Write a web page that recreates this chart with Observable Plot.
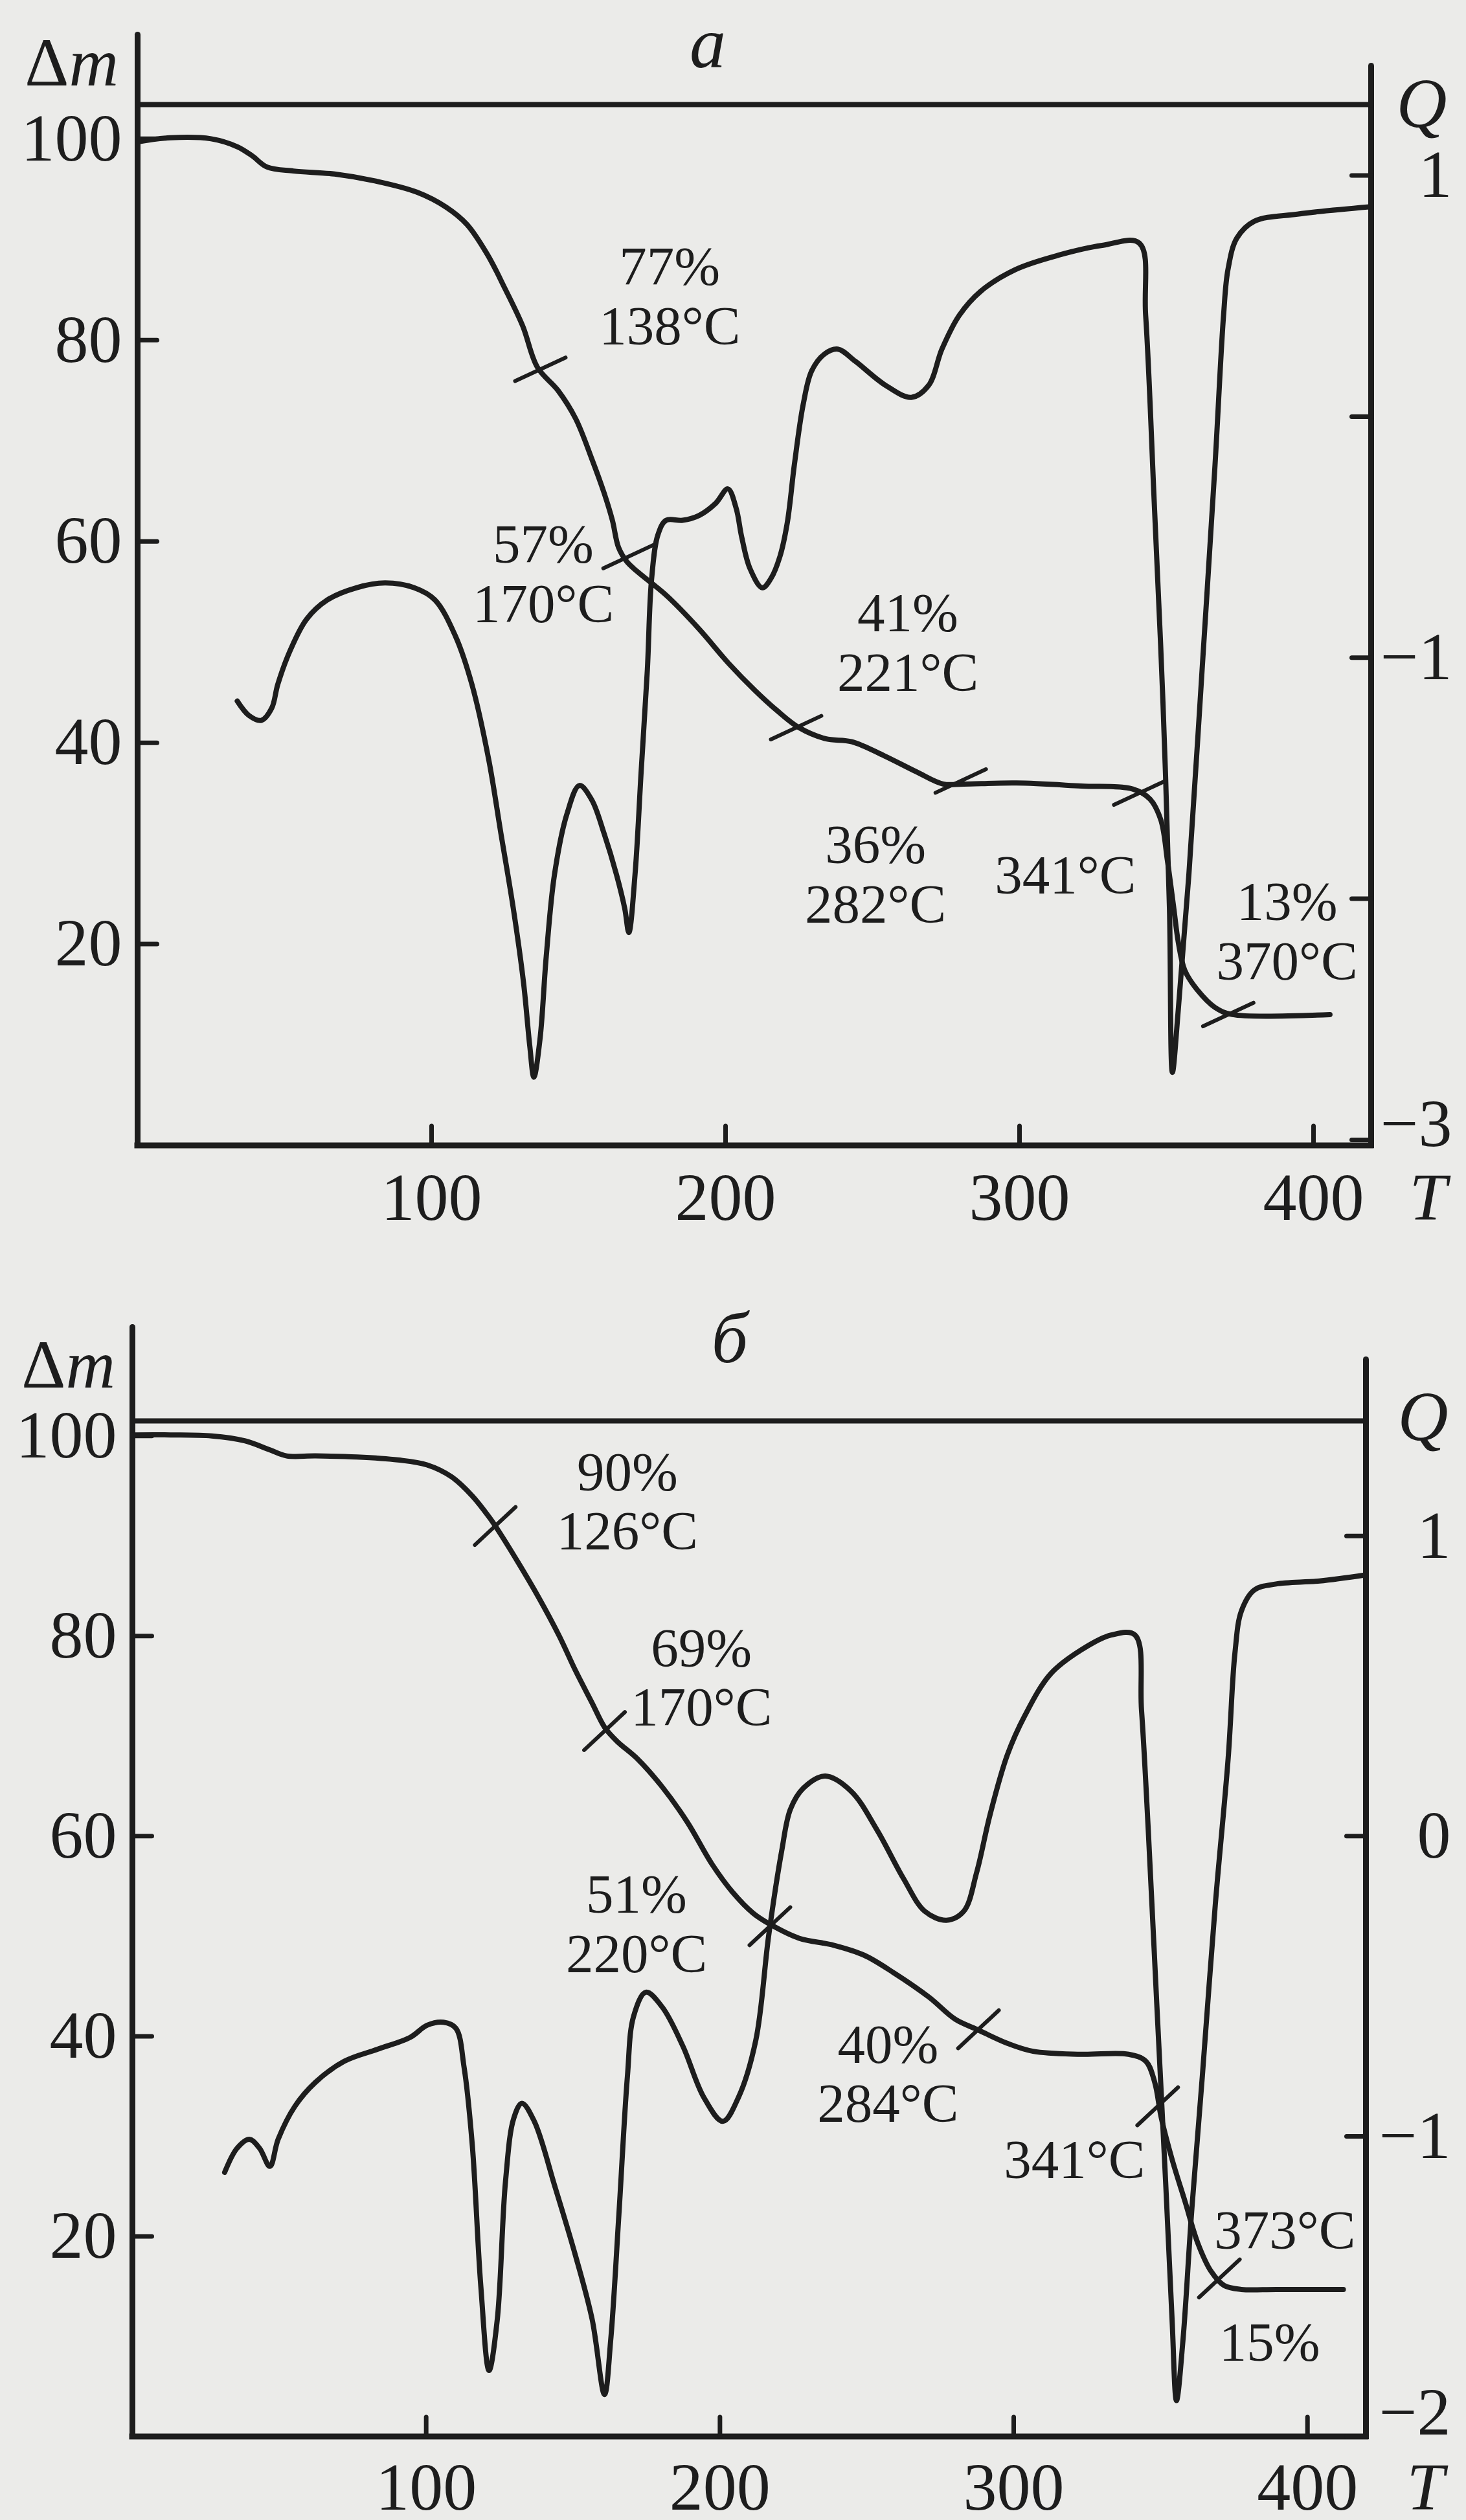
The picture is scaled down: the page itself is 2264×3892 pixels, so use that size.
<!DOCTYPE html>
<html><head><meta charset="utf-8">
<script src="https://cdn.jsdelivr.net/npm/d3@7"></script>
<script src="https://cdn.jsdelivr.net/npm/@observablehq/plot@0.6"></script>
<style>
html,body{margin:0;padding:0;background:#ebebe9;width:2264px;height:3892px;overflow:hidden;}
.panel{position:absolute;left:0;}
#pa{top:0}
#pb{top:1946px}
</style></head><body>
<div id="pa" class="panel"></div><div id="pb" class="panel"></div>
<script>
// ---------- Panel а ----------
// TG curve: [T °C, Δm %]
const tgA = [[0,99.7],[11,100.1],[25,100],[34,99.2],[39,98.3],[44,97.2],[53,96.8],[67,96.5],[81,95.8],[95,94.7],[105,93.2],[112,91.5],[119,88.5],[125,85.1],[131,81.4],[136,77.3],[143,75.0],[149,72.2],[154.5,68.2],[158.7,64.8],[161.5,62.1],[163.6,59.4],[166.4,58.0],[170,57.0],[180,54.6],[191,51.3],[201,47.9],[210,45.2],[217.5,43.2],[225,41.5],[234,40.4],[243,40.1],[254,38.7],[265,37.1],[274,35.9],[281,35.9],[299,36.0],[321,35.7],[338.5,35.4],[344.4,34.4],[348.1,32.3],[350.3,28.3],[352.5,23.5],[354,20.2],[356.2,17.4],[360.6,15.4],[366.5,13.7],[372.4,13.0],[405.6,13.0]];
// DTA curve: [T °C, Q]
const dtaA = [[33.9,-1.18],[37.9,-1.24],[42.1,-1.26],[45.6,-1.21],[47.7,-1.11],[51.9,-0.97],[57.5,-0.84],[64.6,-0.76],[74.4,-0.71],[84.2,-0.69],[94.1,-0.71],[101.1,-0.76],[108.1,-0.91],[113.7,-1.11],[119.4,-1.42],[123.6,-1.73],[127.8,-2.04],[131.3,-2.35],[133.4,-2.61],[134.8,-2.74],[136.9,-2.58],[139,-2.24],[141.8,-1.90],[146,-1.65],[150.3,-1.53],[154.5,-1.59],[158.7,-1.73],[162.9,-1.90],[165.7,-2.04],[167.1,-2.14],[169.2,-1.90],[171.3,-1.47],[173.4,-1.05],[174.8,-0.68],[177,-0.49],[179.8,-0.43],[185.4,-0.43],[191,-0.41],[196.6,-0.36],[200.8,-0.30],[203.6,-0.38],[205.5,-0.50],[208.3,-0.63],[212.5,-0.71],[215.5,-0.67],[218.5,-0.58],[221,-0.44],[223.4,-0.20],[226.4,0.05],[229.3,0.19],[233.7,0.26],[238.2,0.28],[244.1,0.23],[254.4,0.13],[263.2,0.08],[269.1,0.13],[273.6,0.28],[279.5,0.42],[286.8,0.52],[298.6,0.61],[313.4,0.67],[328.1,0.71],[340.7,0.72],[342.9,0.42],[345.8,-0.35],[348.8,-1.19],[351,-2.04],[352,-2.72],[354,-2.46],[357.6,-1.90],[362.1,-1.05],[366.5,-0.20],[369.4,0.42],[370.9,0.61],[373.9,0.74],[379.8,0.81],[394.5,0.84],[418.9,0.87]];
// crossing marks on TG: [T, Δm]
const marksA = [[137,77.1],[167,58.5],[224,41.5],[280,36.2],[340.7,35.0],[371,13.0]];
// annotation texts with their place in chart units [T, Δm]
const notesA = [["77%\n138°C",181,84.4],["57%\n170°C",138,56.8],["41%\n221°C",262,50],["36%\n282°C",251,27],["341°C",315.6,26.9],["13%\n370°C",391,21.3]];
const tLimitA = 419.6, mTopA = 103.4;
const qToMA = q => 72.4 + 23.95 * q;       // Q axis of panel а against Δm
const qTicksA = [1, 0, -1, -2, -3], qLabelsA = [1, -1, -3];

// ---------- Panel б ----------
const tgB = [[0,100.1],[13,100.1],[27,100],[38.4,99.5],[46.8,98.6],[52.5,98.0],[62.3,98.0],[76.4,97.9],[90.4,97.6],[100.3,97.1],[108.7,95.9],[115.7,94.0],[121.4,91.9],[124.2,90.7],[131.2,87.4],[138.2,83.9],[145.3,80.0],[150.9,76.5],[156.5,73.3],[160.7,70.9],[164.9,69.5],[172,67.7],[180.4,64.9],[188.9,61.4],[197.3,57.2],[204.3,54.4],[211.3,52.3],[217,51.2],[226.9,49.8],[238.7,49.1],[249.1,48.1],[259.4,46.3],[271.2,43.9],[280.1,41.7],[287.4,40.7],[297.8,39.3],[306.6,38.5],[322.9,38.2],[339.1,38.2],[345,37.5],[348,35.4],[350.2,31.9],[353.9,27.7],[358.3,23.5],[362.7,19.3],[367.2,16.5],[371.6,15.1],[377.5,14.7],[389.3,14.7],[412.2,14.7]];
const dtaB = [[31.4,-1.12],[35.6,-1.04],[39.8,-1.01],[43.3,-1.04],[46.8,-1.10],[49.6,-1.01],[55.3,-0.90],[62.3,-0.82],[72.1,-0.75],[83.4,-0.71],[94.6,-0.67],[100.3,-0.63],[105.9,-0.62],[110.1,-0.64],[112.9,-0.77],[115.7,-1.03],[118.6,-1.50],[121.4,-1.78],[124.2,-1.61],[127,-1.15],[129.8,-0.94],[132.6,-0.89],[136.8,-0.95],[143.9,-1.17],[150.9,-1.40],[156.5,-1.61],[160.7,-1.86],[162.8,-1.68],[165.6,-1.26],[168.5,-0.80],[170.6,-0.60],[174.8,-0.52],[180.4,-0.57],[187.4,-0.70],[194.5,-0.87],[201,-0.95],[206.3,-0.87],[212.2,-0.68],[216.6,-0.33],[221,-0.05],[224,0.09],[228.4,0.16],[235.8,0.20],[244.6,0.15],[253.5,0.02],[262.4,-0.14],[269.7,-0.25],[277.1,-0.28],[283,-0.25],[287.4,-0.12],[291.9,0.07],[297.8,0.27],[303.7,0.40],[312.5,0.54],[322.9,0.62],[333.2,0.67],[341.3,0.67],[343.5,0.42],[345.8,0.02],[348.7,-0.56],[351.7,-1.15],[353.9,-1.61],[355.4,-1.88],[357.6,-1.68],[360.5,-1.26],[364.2,-0.80],[368.6,-0.23],[373,0.26],[375.3,0.61],[377.5,0.75],[381.9,0.82],[389.3,0.84],[404.1,0.85],[419.6,0.87]];
const marksB = [[123.5,91.0],[160.7,70.5],[217,51.0],[288,40.7],[349,33.0],[370,15.8]];
const notesB = [["90%\n126°C",168.5,93.5],["69%\n170°C",193.7,75.9],["51%\n220°C",171.6,51.3],["40%\n284°C",257.2,36.3],["341°C",320.7,27.7],["373°C",392.3,20.7],["15%",387.1,9.5]];
const tLimitB = 419.9, mTopB = 101.5;
const qToMB = q => 60 + 30 * q;
const qTicksB = [1, 0, -1, -2], qLabelsB = [1, 0, -1, -2];

const tTicks = [100, 200, 300, 400];
const mTicks = [20, 40, 60, 80, 100];

// ---------- drawing ----------
const INK = "#1d1d1d";
const FONT = "'Liberation Serif', 'Times New Roman', serif";
const seg = {draw(ctx, l) { ctx.moveTo(0, 0); ctx.lineTo(0, -l); }};
const fmtQ = d => d < 0 ? "\u2212" + (-d) : String(d);

function panel(cfg) {
  const tg = cfg.tg.map(([T, m]) => ({T, m}));
  const dta = cfg.dta.map(([T, q]) => ({T, q}));
  const crosses = cfg.marks.map(([T, m]) => ({T, m}));
  const notes = cfg.notes.map(([text, T, m]) => ({text, T, m}));
  const tickFont = 104;
  return Plot.plot({
    width: 2264, height: 1946,
    marginLeft: cfg.ml, marginRight: cfg.mr, marginTop: cfg.mt, marginBottom: cfg.mb,
    x: {domain: [0, cfg.tLimit], axis: null},
    y: {domain: [0, cfg.mTop], axis: null},
    style: {background: "transparent", overflow: "visible", fontFamily: FONT, color: INK},
    marks: [
      // frame lines
      Plot.ruleY([0], {stroke: INK, strokeWidth: 9, strokeLinecap: "square"}),
      Plot.ruleY([cfg.mTop], {stroke: INK, strokeWidth: 8}),
      Plot.ruleX([0], {stroke: INK, strokeWidth: 9, strokeLinecap: "square"}),
      Plot.ruleX([cfg.tLimit], {stroke: INK, strokeWidth: 9, strokeLinecap: "square"}),
      Plot.vector([0], {frameAnchor: "top-left", rotate: 0, length: cfg.extL, anchor: "start", shape: seg, stroke: INK, strokeWidth: 9}),
      Plot.vector([0], {frameAnchor: "top-right", rotate: 0, length: cfg.extR, anchor: "start", shape: seg, stroke: INK, strokeWidth: 9}),
      // inward ticks
      Plot.vector(tTicks, {x: d => d, frameAnchor: "bottom", rotate: 0, length: 30, anchor: "start", shape: seg, stroke: INK, strokeWidth: 7}),
      Plot.vector(mTicks, {y: d => d, frameAnchor: "left", rotate: 90, length: 30, anchor: "start", shape: seg, stroke: INK, strokeWidth: 7}),
      Plot.vector(cfg.qTicks, {y: d => cfg.qToM(d), frameAnchor: "right", rotate: -90, length: 30, anchor: "start", shape: seg, stroke: INK, strokeWidth: 7}),
      // tick labels
      Plot.text(tTicks, {x: d => d, frameAnchor: "bottom", dy: cfg.tLabDy, textAnchor: "middle", lineAnchor: "middle", text: d => String(d), fontSize: tickFont, fill: INK}),
      Plot.text(mTicks, {y: d => d, frameAnchor: "left", dx: -24, textAnchor: "end", lineAnchor: "middle", text: d => String(d), fontSize: tickFont, fill: INK}),
      Plot.text(cfg.qLabels.slice(0, -1), {y: d => cfg.qToM(d), frameAnchor: "right", dx: cfg.qDx, textAnchor: "end", lineAnchor: "middle", text: fmtQ, fontSize: tickFont, fill: INK}),
      Plot.text(cfg.qLabels.slice(-1), {y: d => cfg.qToM(d), frameAnchor: "right", dx: cfg.qDx, dy: cfg.lastQDy, textAnchor: "end", lineAnchor: "middle", text: fmtQ, fontSize: tickFont, fill: INK}),
      // axis names
      Plot.text(["\u0394"], {frameAnchor: "top-left", dx: cfg.dmDx, dy: cfg.dmDy, textAnchor: "end", lineAnchor: "middle", fontSize: 106, fill: INK}),
      Plot.text(["m"], {frameAnchor: "top-left", dx: cfg.dmDx, dy: cfg.dmDy, textAnchor: "start", lineAnchor: "middle", fontStyle: "italic", fontSize: 106, fill: INK}),
      Plot.text(["Q"], {frameAnchor: "top-right", dx: cfg.qNameDx, dy: cfg.qNameDy, textAnchor: "middle", lineAnchor: "middle", fontStyle: "italic", fontSize: 108, fill: INK}),
      Plot.text(["T"], {frameAnchor: "bottom-right", dx: cfg.tNameDx, dy: cfg.tLabDy, textAnchor: "middle", lineAnchor: "middle", fontStyle: "italic", fontSize: 104, fill: INK}),
      Plot.text([cfg.title], {frameAnchor: "top", dx: cfg.titleDx, dy: cfg.titleDy, textAnchor: "middle", lineAnchor: "middle", fontStyle: "italic", fontSize: 112, fill: INK}),
      // curves
      Plot.line(tg, {x: "T", y: "m", curve: "catmull-rom", stroke: INK, strokeWidth: 8, strokeLinejoin: "round", strokeLinecap: "round"}),
      Plot.line(dta, {x: "T", y: d => cfg.qToM(d.q), curve: "catmull-rom", stroke: INK, strokeWidth: 8, strokeLinejoin: "round", strokeLinecap: "round"}),
      Plot.vector(crosses, {x: "T", y: "m", rotate: cfg.markRotate, length: 86, anchor: "middle", shape: seg, stroke: INK, strokeWidth: 6}),
      Plot.text(notes, {x: "T", y: "m", text: "text", fontSize: 85, lineHeight: 1.08, fill: INK})
    ]
  });
}

document.getElementById("pa").append(panel({
  tg: tgA, dta: dtaA, marks: marksA, notes: notesA, tLimit: tLimitA, mTop: mTopA,
  qToM: qToMA, qTicks: qTicksA, qLabels: qLabelsA,
  ml: 212, mr: 147, mt: 161, mb: 177.5, extL: 108, extR: 60,
  qDx: 125, lastQDy: -24, dmDx: -106, dmDy: -63, qNameDx: 78, qNameDy: 0, tNameDx: 88, tLabDy: 82,
  title: "а", titleDx: -72, titleDy: -93, markRotate: 65
}));
document.getElementById("pb").append(panel({
  tg: tgB, dta: dtaB, marks: marksB, notes: notesB, tLimit: tLimitB, mTop: mTopB,
  qToM: qToMB, qTicks: qTicksB, qLabels: qLabelsB,
  ml: 204, mr: 155, mt: 248, mb: 129.4, extL: 145, extR: 95,
  qDx: 131, lastQDy: -36, dmDx: -103, dmDy: -85, qNameDx: 88, qNameDy: -5, tNameDx: 92, tLabDy: 80,
  title: "б", titleDx: -30, titleDy: -126, markRotate: 47
}));
</script>
</body></html>
